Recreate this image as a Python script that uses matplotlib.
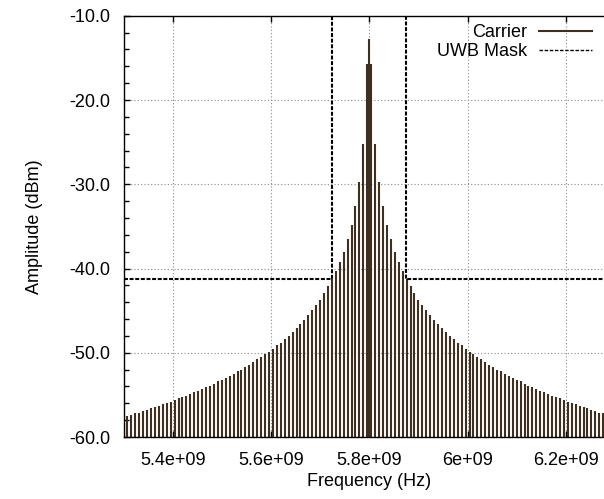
import numpy as np
import matplotlib
matplotlib.use('Agg')
import matplotlib.pyplot as plt
from matplotlib.ticker import FixedLocator, FixedFormatter, MultipleLocator
from matplotlib.lines import Line2D

# ---------------- data ----------------
carrier_freq = 5.8e9          # Hz
carrier_amp = -12.7           # dBm
sideband_spacing = 8e6        # Hz between sidebands
sideband_first_offset = 4e6   # Hz offset of first sideband pair
# amplitude of each symmetric sideband pair, innermost first (dBm)
sideband_amp = [
    -15.7, -25.2, -29.7, -32.6, -34.8, -36.5, -38.0, -39.2, -40.3, -41.3,
    -42.1, -42.9, -43.7, -44.3, -44.9, -45.5, -46.1, -46.6, -47.1, -47.5,
    -48.0, -48.4, -48.8, -49.1, -49.5, -49.9, -50.2, -50.5, -50.8, -51.1,
    -51.4, -51.7, -52.0, -52.2, -52.5, -52.7, -53.0, -53.2, -53.4, -53.7,
    -53.9, -54.1, -54.3, -54.5, -54.7, -54.9, -55.1, -55.3, -55.4, -55.6,
    -55.8, -56.0, -56.1, -56.3, -56.4, -56.6, -56.8, -56.9, -57.1, -57.2,
    -57.4, -57.5, -57.6,
]
mask_freq = [5.3e9, 5.725e9, 5.725e9, 5.875e9, 5.875e9, 6.3e9]
mask_amp = [-41.3, -41.3, 0.0, 0.0, -41.3, -41.3]

xticks = [5.4e9, 5.6e9, 5.8e9, 6.0e9, 6.2e9]
xticklabels = ['5.4e+09', '5.6e+09', '5.8e+09', '6e+09', '6.2e+09']
yticks = [-60, -50, -40, -30, -20, -10]
yticklabels = ['-60.0', '-50.0', '-40.0', '-30.0', '-20.0', '-10.0']
series_labels = ['Carrier', 'UWB Mask']

# ---------------- style ----------------
plt.rcParams['font.family'] = ['Liberation Sans', 'DejaVu Sans']
FS = 13
bar_color = '#3f2f20'

W, H = 604, 499
fig = plt.figure(figsize=(W / 100, H / 100), dpi=100)
left, right, top, bottom = 123.5, 615.0, 15.8, 437.0
ax = fig.add_axes([left / W, 1 - bottom / H, (right - left) / W, (bottom - top) / H])

offsets = sideband_first_offset + sideband_spacing * np.arange(len(sideband_amp))
amps = np.array(sideband_amp)
freqs = np.concatenate([carrier_freq - offsets[::-1], [carrier_freq], carrier_freq + offsets])
levels = np.concatenate([amps[::-1], [carrier_amp], amps])

ymin, ymax = -60, -10
ax.vlines(freqs, ymin, levels, colors=bar_color, linewidth=1.5, zorder=3)
ax.plot(mask_freq, mask_amp, color='black', linewidth=1.5,
        linestyle=(0, (1.9, 0.8)), zorder=4)

ax.set_xlim(5.3e9, 6.3e9)
ax.set_ylim(ymin, ymax)

ax.xaxis.set_major_locator(FixedLocator(xticks))
ax.xaxis.set_major_formatter(FixedFormatter(xticklabels))
ax.yaxis.set_major_locator(FixedLocator(yticks))
ax.yaxis.set_major_formatter(FixedFormatter(yticklabels))
ax.yaxis.set_minor_locator(MultipleLocator(2))

ax.tick_params(axis='both', which='both', direction='in', top=True, right=True,
               labelsize=FS, width=1.0, color='black')
ax.tick_params(axis='both', which='major', length=4.5)
ax.tick_params(axis='both', which='minor', length=3.5)
ax.tick_params(axis='x', which='major', pad=11)
ax.tick_params(axis='y', which='major', pad=9.5)

for s in ax.spines.values():
    s.set_linewidth(1.0)
    s.set_zorder(5)

ax.grid(True, which='major', color='#8a8a8a', linestyle=(0, (1, 2)), linewidth=0.8, zorder=1)
ax.set_axisbelow(True)

ax.set_xlabel('Frequency (Hz)', fontsize=FS, labelpad=3)
ax.set_ylabel('Amplitude (dBm)', fontsize=FS, labelpad=19)

handles = [Line2D([], [], color=bar_color, linewidth=1.5),
           Line2D([], [], color='black', linewidth=1.0, linestyle=(0, (2.5, 1.2)))]
fig.legend(handles, series_labels, loc='upper right',
           bbox_to_anchor=(591.7 / W, 1 - 24 / H), bbox_transform=fig.transFigure,
           frameon=False, markerfirst=False, fontsize=FS, handlelength=2.9,
           handletextpad=0.7, labelspacing=0.12, borderpad=0, borderaxespad=0)

fig.savefig('out.png', dpi=100)
